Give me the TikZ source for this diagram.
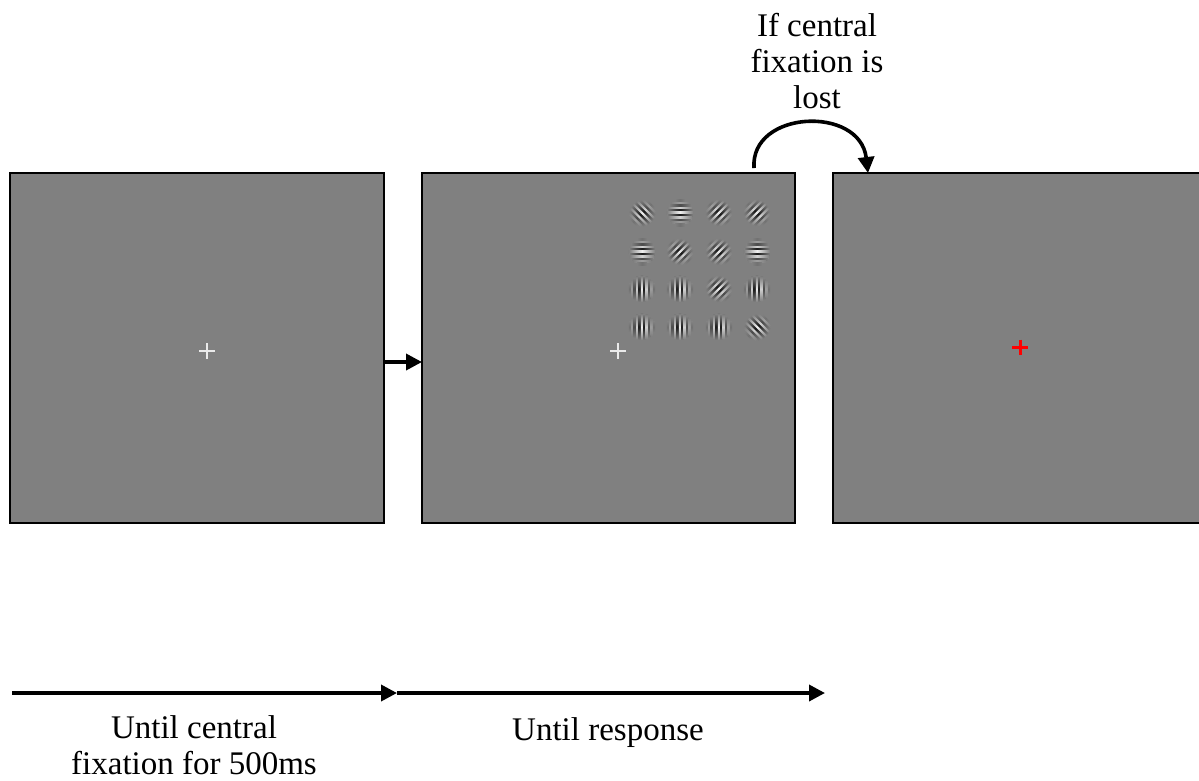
\documentclass[tikz,border=0pt]{standalone}
\usepackage{fontspec}
\setmainfont{Liberation Serif}
\usetikzlibrary{arrows.meta}
\definecolor{screen}{HTML}{808080}
\definecolor{crosswhite}{HTML}{EAEAEA}
\tikzset{
  screenbox/.style={draw=black, line width=2pt, fill=screen},
  flow/.style={line width=3.6pt, -{Triangle[length=16pt,width=16pt]}},
  caption/.style={font=\fontsize{33}{36}\selectfont, align=center, inner sep=0pt},
}
% one Gabor patch: centre (#1,#2), stripe orientation #3 (degrees, counter-clockwise)
\newcommand{\gaborpatch}[3]{%
  \begin{scope}[transform canvas={shift={(#1,#2)}, rotate=#3}]
    \foreach \k in {-5,...,5}{%
      \pgfmathsetmacro{\dd}{\k*2.4}%
      \pgfmathsetmacro{\LL}{sqrt(max(170-\dd*\dd,4))}%
      \pgfmathsetmacro{\pp}{88*exp(-\dd*\dd/70)}%
      \ifodd\k
        \def\stripecol{black}%
      \else
        \def\stripecol{white}%
      \fi
      \shade[left color=screen, right color=screen, middle color=\stripecol!\pp!screen]
        (-\LL,\dd-1.2) rectangle (\LL,\dd+1.2);
    }
  \end{scope}}
\begin{document}
\begin{tikzpicture}[x=1pt, y=-1pt]
  \useasboundingbox[fill=white] (0,0) rectangle (1199,780);

  % the three screens
  \draw[screenbox] (10,173) rectangle (384,523);
  \draw[screenbox] (422,173) rectangle (795,523);
  \draw[screenbox] (833,173) rectangle (1210,523);
  \coordinate (s1r) at (384,362);
  \coordinate (s2l) at (422,362);

  % fixation crosses
  \draw[crosswhite, line width=1.8pt] (199,351) -- (215,351) (207,343) -- (207,359);
  \draw[crosswhite, line width=1.8pt] (610,351) -- (626,351) (618,343) -- (618,359);
  \draw[red, line width=3pt] (1012,347) -- (1028,347) (1020,339.5) -- (1020,355);

  % 4x4 array of Gabor patches
  \gaborpatch{642}{213}{-45}
  \gaborpatch{680}{213}{0}
  \gaborpatch{719}{213}{45}
  \gaborpatch{757}{213}{45}
  \gaborpatch{642}{252}{0}
  \gaborpatch{680}{252}{45}
  \gaborpatch{719}{252}{45}
  \gaborpatch{757}{252}{0}
  \gaborpatch{642}{289}{90}
  \gaborpatch{680}{289}{90}
  \gaborpatch{719}{289}{45}
  \gaborpatch{757}{289}{90}
  \gaborpatch{642}{327}{90}
  \gaborpatch{680}{327}{90}
  \gaborpatch{719}{327}{90}
  \gaborpatch{757}{327}{-45}

  % transition between the first two screens
  \draw[flow] (s1r) -- (s2l);

  % jump back when fixation is lost
  \coordinate (loopa) at (754,168);
  \coordinate (loopb) at (868,173);
  \draw[flow] (loopa) .. controls (750,110) and (860,105) .. (loopb);
  \node[caption, anchor=north] (lost) at (817,13) {If central\\fixation is\\lost};

  % time line
  \coordinate (t0) at (12,693);
  \coordinate (t1) at (397,693);
  \coordinate (t2) at (825,693);
  \draw[flow] (t0) -- (t1);
  \draw[flow] (t1) -- (t2);
  \node[caption, anchor=north] (phase1) at (194,715) {Until central\\fixation for 500ms};
  \node[caption, anchor=base] (phase2) at (608,740) {Until response};
\end{tikzpicture}
\end{document}
